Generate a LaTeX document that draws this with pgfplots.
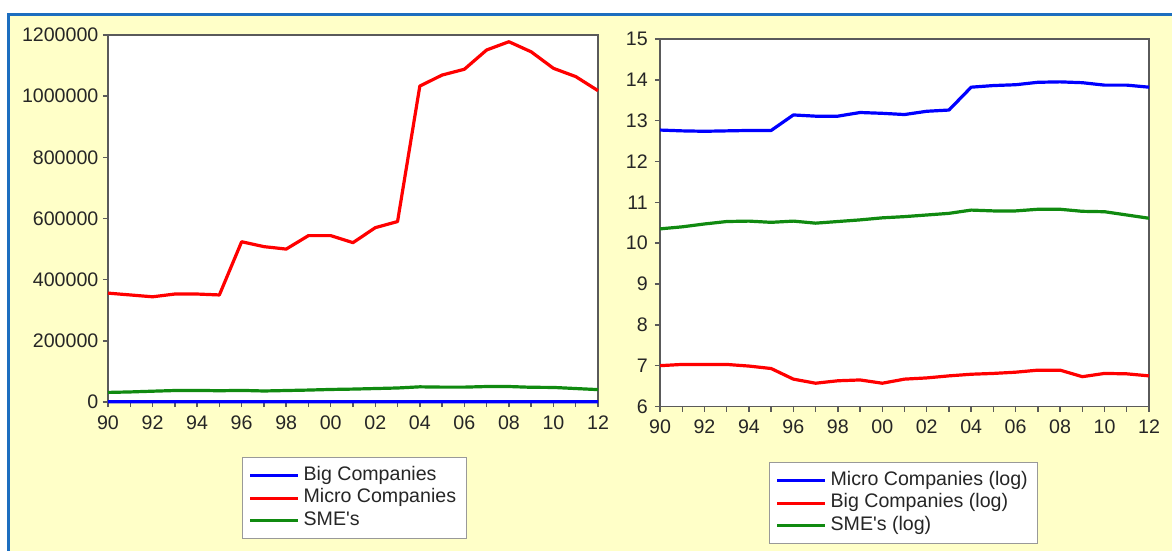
\documentclass[border=0pt]{standalone}
\usepackage{fontspec}
\setmainfont{Liberation Sans}
\usepackage{pgfplots}
\pgfplotsset{compat=1.18}

\definecolor{panelbg}{HTML}{FFFFC8}
\definecolor{frameblue}{HTML}{1C6EBF}
\definecolor{axisgray}{HTML}{5A5A5A}
\definecolor{serBlue}{HTML}{0000FF}
\definecolor{serRed}{HTML}{FF0000}
\definecolor{serGreen}{HTML}{108A10}

\newcommand{\lblfont}{\fontsize{9.8}{11}\selectfont}

\pgfplotsset{
  panel/.style={
    scale only axis,
    axis background/.style={fill=white},
    axis line style={axisgray, line width=0.9pt},
    every tick/.style={axisgray, line width=0.7pt},
    tick align=outside,
    tick pos=left,
    major tick length=2.6pt,
    minor tick length=2.6pt,
    xmin=1990, xmax=2012,
    xtick={1990,1992,...,2012},
    minor xtick={1991,1993,...,2011},
    xticklabels={90,92,94,96,98,00,02,04,06,08,10,12},
    ticklabel style={font=\lblfont, text=black!85},
    xticklabel style={yshift=-0.6pt},
    /pgf/number format/assume math mode=true,
    legend cell align=left,
    legend image code/.code={\draw[#1, line width=1.5pt] (0pt,0pt) -- (24pt,0pt);},
    legend style={
      anchor=north west,
      draw=gray!80, line width=0.6pt, fill=white,
      font=\lblfont, text=black!85,
      inner xsep=3pt, inner ysep=3.4pt, row sep=0pt,
      nodes={inner xsep=2pt, inner ysep=0.5pt, text height=7.5pt, text depth=2.75pt},
    },
    every axis plot/.append style={line width=1.6pt, line join=round},
  }
}

\begin{document}
\begin{tikzpicture}
\path[use as bounding box] (0,0) rectangle (586pt,275.5pt);
\fill[white] (0,0) rectangle (586pt,275.5pt);
\fill[panelbg] (4.35pt,0) rectangle (586pt,268.4pt);
\draw[frameblue, line width=1.5pt] (4.35pt,0) -- (4.35pt,268.4pt) -- (586pt,268.4pt);

% Levels
\begin{axis}[panel,
  at={(54pt,74.5pt)}, anchor=south west,
  width=245pt, height=183.5pt,
  ymin=0, ymax=1200000,
  ytick={0,200000,...,1200000},
  scaled y ticks=false,
  yticklabel style={xshift=1.3pt, /pgf/number format/fixed, /pgf/number format/1000 sep={}},
  clip=false,
  legend style={at={(0.2735,-0.150)}},
]
\addplot[serBlue] coordinates {
 (1990,1097) (1991,1130) (1992,1130) (1993,1130) (1994,1086) (1995,1023)
 (1996,788) (1997,713) (1998,757) (1999,773) (2000,713) (2001,788)
 (2002,812) (2003,854) (2004,889) (2005,907) (2006,935) (2007,982)
 (2008,982) (2009,837) (2010,907) (2011,898) (2012,854)};
\addlegendentry{Big Companies}
\addplot[serRed] coordinates {
 (1990,356000) (1991,350000) (1992,344000) (1993,353000) (1994,353000) (1995,350000)
 (1996,524000) (1997,508000) (1998,500000) (1999,544000) (2000,544000) (2001,521000)
 (2002,570000) (2003,590000) (2004,1033000) (2005,1069000) (2006,1088000) (2007,1151000)
 (2008,1178000) (2009,1145000) (2010,1091000) (2011,1064000) (2012,1018000)};
\addlegendentry{Micro Companies}
\addplot[serGreen] coordinates {
 (1990,31300) (1991,32900) (1992,35300) (1993,37500) (1994,37900) (1995,36800)
 (1996,37900) (1997,36000) (1998,37500) (1999,39000) (2000,41000) (2001,42200)
 (2002,44000) (2003,45800) (2004,49600) (2005,48600) (2006,48600) (2007,50600)
 (2008,50600) (2009,48100) (2010,47600) (2011,44000) (2012,40500)};
\addlegendentry{SME\textquotesingle s}
\end{axis}

% Logarithms
\begin{axis}[panel,
  at={(330pt,72.25pt)}, anchor=south west,
  width=244.5pt, height=183.75pt,
  ymin=6, ymax=15,
  ytick={6,7,...,15},
  legend style={at={(0.2229,-0.151)}},
]
\addplot[serBlue] coordinates {
 (1990,12.77) (1991,12.75) (1992,12.74) (1993,12.75) (1994,12.76) (1995,12.76)
 (1996,13.14) (1997,13.11) (1998,13.11) (1999,13.20) (2000,13.18) (2001,13.15)
 (2002,13.23) (2003,13.26) (2004,13.82) (2005,13.86) (2006,13.88) (2007,13.94)
 (2008,13.95) (2009,13.93) (2010,13.87) (2011,13.87) (2012,13.82)};
\addlegendentry{Micro Companies (log)}
\addplot[serRed] coordinates {
 (1990,7.00) (1991,7.03) (1992,7.03) (1993,7.03) (1994,6.99) (1995,6.93)
 (1996,6.67) (1997,6.57) (1998,6.63) (1999,6.65) (2000,6.57) (2001,6.67)
 (2002,6.70) (2003,6.75) (2004,6.79) (2005,6.81) (2006,6.84) (2007,6.89)
 (2008,6.89) (2009,6.73) (2010,6.81) (2011,6.80) (2012,6.75)};
\addlegendentry{Big Companies (log)}
\addplot[serGreen] coordinates {
 (1990,10.35) (1991,10.40) (1992,10.47) (1993,10.53) (1994,10.54) (1995,10.51)
 (1996,10.54) (1997,10.49) (1998,10.53) (1999,10.57) (2000,10.62) (2001,10.65)
 (2002,10.69) (2003,10.73) (2004,10.81) (2005,10.79) (2006,10.79) (2007,10.83)
 (2008,10.83) (2009,10.78) (2010,10.77) (2011,10.69) (2012,10.61)};
\addlegendentry{SME\textquotesingle s (log)}
\end{axis}
\end{tikzpicture}
\end{document}
